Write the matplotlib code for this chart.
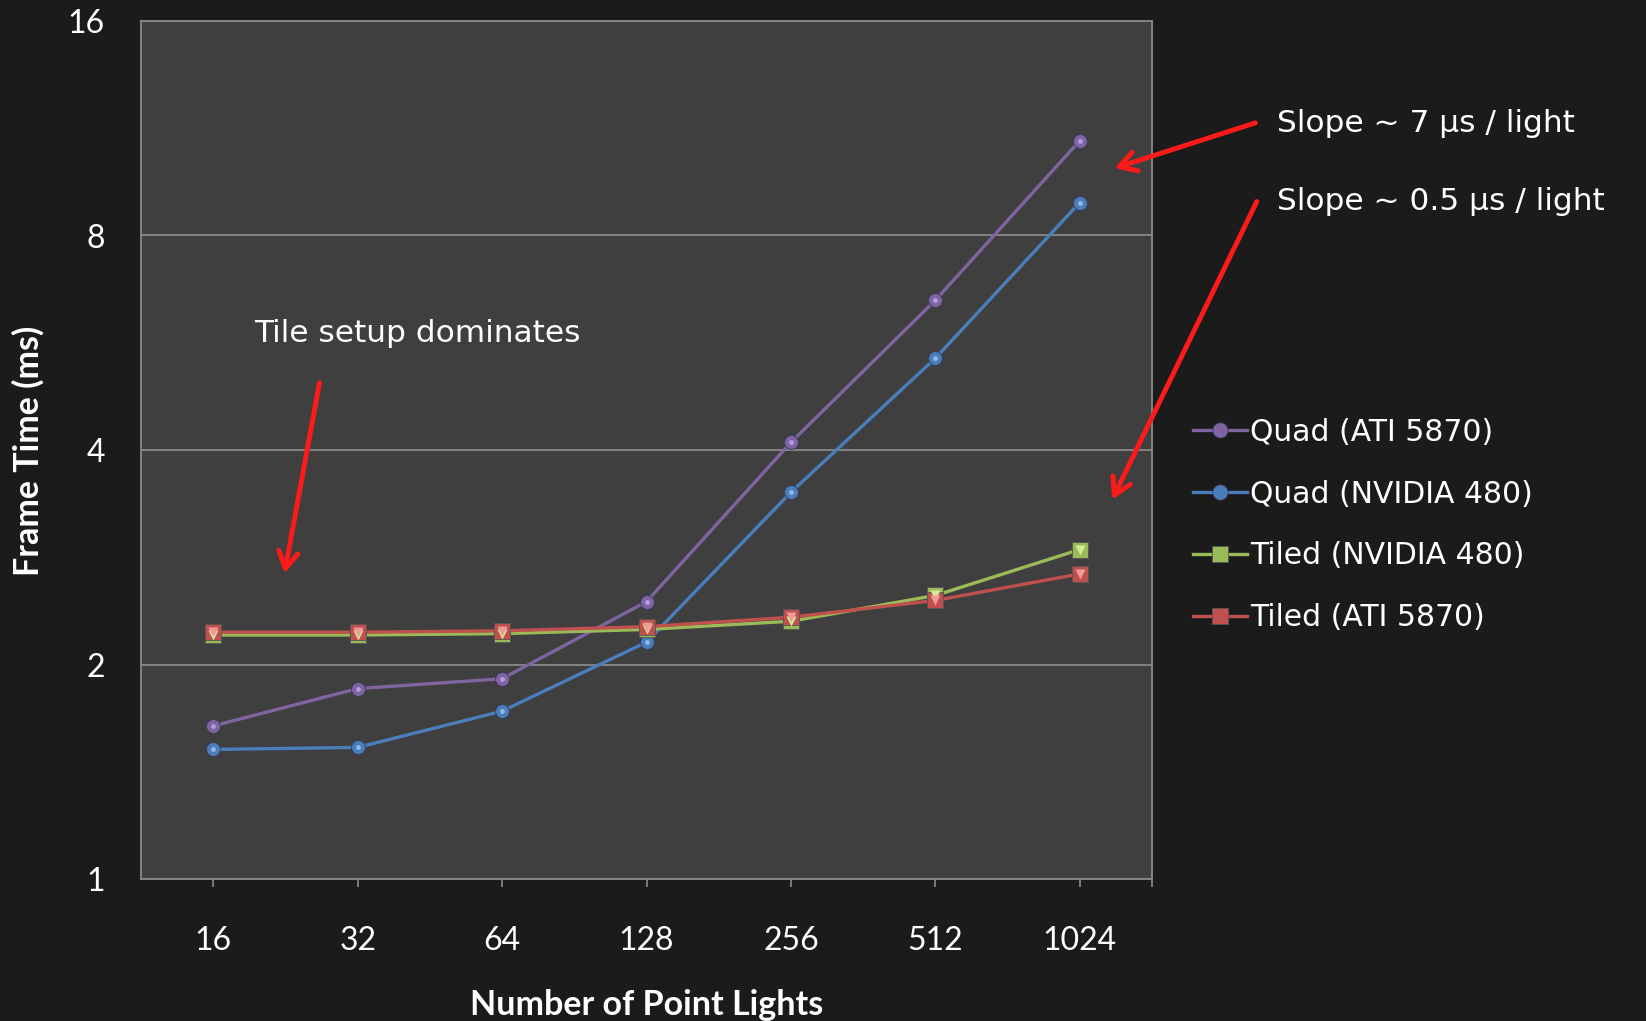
import numpy as np
import matplotlib.pyplot as plt
from matplotlib.patches import FancyArrowPatch

# data
lights = ['16', '32', '64', '128', '256', '512', '1024']
quad_ati = [1.64, 1.85, 1.91, 2.45, 4.10, 6.49, 10.87]
quad_nv = [1.52, 1.53, 1.72, 2.15, 3.49, 5.38, 8.90]
tiled_nv = [2.20, 2.20, 2.21, 2.24, 2.30, 2.50, 2.90]
tiled_ati = [2.22, 2.22, 2.23, 2.26, 2.33, 2.46, 2.68]
y_ticks = [1, 2, 4, 8, 16]

BG = '#1b1b1b'
PLOT_BG = '#3f3f3f'
GRID = '#8a8a8a'
W, H = 1646, 1021

fig = plt.figure(figsize=(W / 100, H / 100), dpi=100, facecolor=BG)
ax = fig.add_axes([141 / W, 1 - 879 / H, (1152 - 141) / W, (879 - 21) / H])
ax.set_facecolor(PLOT_BG)

x = np.arange(len(lights))

series = [
    (quad_ati, 'Quad (ATI 5870)', '#8064a2', '#b39ddb', 'o'),
    (quad_nv, 'Quad (NVIDIA 480)', '#4a7ebb', '#8fb8e8', 'o'),
    (tiled_nv, 'Tiled (NVIDIA 480)', '#9bbb59', '#d4ea9a', 's'),
    (tiled_ati, 'Tiled (ATI 5870)', '#c0504d', '#f09a98', 's'),
]

handles = []
for vals, label, col, light, mk in series:
    if mk == 'o':
        h, = ax.plot(x, vals, color=col, lw=2.4, marker='o', ms=10,
                     mfc=col, mec='#3a3a5a', mew=0.6, label=label, zorder=3)
        # small highlight on the sphere
        ax.plot(x, vals, ls='none', marker='o', ms=3.5, mfc=light, mec='none', zorder=4)
    else:
        h, = ax.plot(x, vals, color=col, lw=2.4, marker='s', ms=11,
                     mfc=col, mec='#555555', mew=0.6, label=label, zorder=3)
        ax.plot(x, vals, ls='none', marker='v', ms=6.5, mfc=light, mec='none', zorder=4)
    handles.append(h)

ax.set_yscale('log', base=2)
ax.set_ylim(1, 16)
ax.set_yticks(y_ticks)
ax.set_yticklabels([str(v) for v in y_ticks])
ax.minorticks_off()
ax.set_xlim(-0.5, len(lights) - 0.5)
ax.set_xticks(x)
ax.set_xticklabels(lights)
ax.set_xticks([len(lights) - 0.5], minor=True)

ax.yaxis.grid(True, color=GRID, lw=1.3)
ax.set_axisbelow(True)
for s in ax.spines.values():
    s.set_color(GRID)
    s.set_linewidth(1.3)

ax.tick_params(axis='y', length=0, pad=26, labelsize=23, labelcolor='white')
ax.tick_params(axis='x', which='both', length=6, width=1.2, color=GRID, direction='out',
               pad=28, labelsize=23, labelcolor='white')
for t in ax.get_xticklabels() + ax.get_yticklabels():
    t.set_fontfamily('Lato')

fig.text(647 / W, 1 - 1005 / H, 'Number of Point Lights', ha='center', va='center',
         fontsize=24.5, fontweight='bold', color='white', family='Lato')
fig.text(28 / W, 1 - 451 / H, 'Frame Time (ms)', ha='center', va='center', rotation=90,
         fontsize=24.5, fontweight='bold', color='white', family='Lato')

leg = fig.legend(handles=handles, loc='center left', bbox_to_anchor=(1193 / W, 1 - 525 / H),
                 frameon=False, fontsize=21.5, handlelength=1.8, handletextpad=0.12,
                 labelspacing=1.1, borderpad=0, borderaxespad=0, markerscale=1.1)
for t in leg.get_texts():
    t.set_color('white')
    t.set_fontfamily('DejaVu Sans')

# annotations
fig.text(1277 / W, 1 - 124 / H, 'Slope ~ 7 μs / light', ha='left', va='center',
         fontsize=22.5, color='white')
fig.text(1277 / W, 1 - 201 / H, 'Slope ~ 0.5 μs / light', ha='left', va='center',
         fontsize=22.5, color='white')
fig.text(254 / W, 1 - 333 / H, 'Tile setup dominates', ha='left', va='center',
         fontsize=22.5, color='white')

arrows = [((1258, 122), (1112, 169)), ((1258, 199), (1111, 502)), ((320, 380), (284, 576))]
for (x0, y0), (x1, y1) in arrows:
    fig.add_artist(FancyArrowPatch((x0 / W, 1 - y0 / H), (x1 / W, 1 - y1 / H),
                                   transform=fig.transFigure, arrowstyle='->,head_length=12,head_width=7',
                                   color='#ff1a1a', lw=3.5, mutation_scale=1))

fig.savefig('out.png', dpi=100, facecolor=BG)
